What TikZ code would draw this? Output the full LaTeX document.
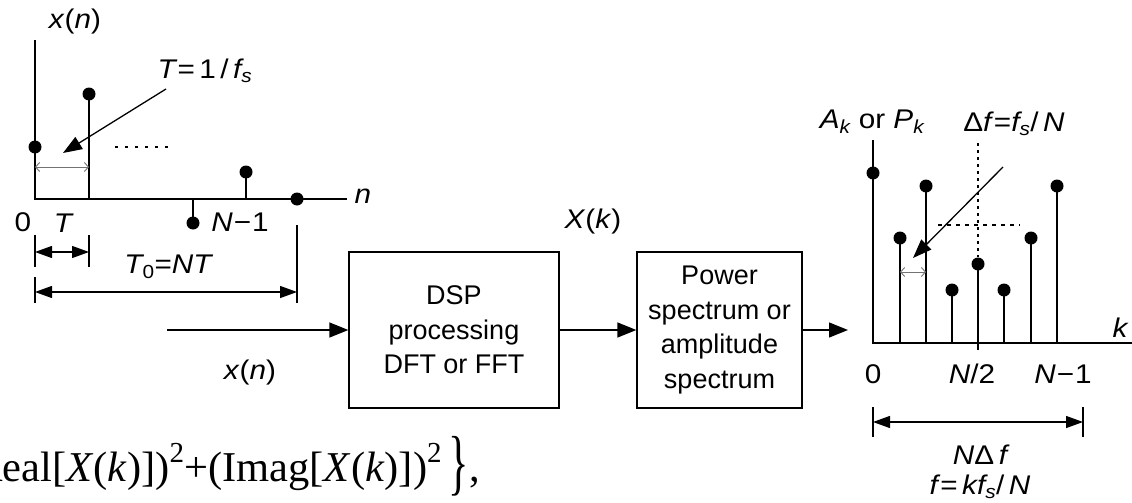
\documentclass[tikz,border=0pt]{standalone}
\usepackage{fontspec}
\setmainfont{Liberation Sans}
\newfontfamily\serifam{Liberation Serif}
\newfontfamily\lblfont[FakeStretch=1.1]{Liberation Sans}
\usetikzlibrary{arrows.meta}
\newcommand\supr[1]{\raisebox{0.45em}{\fontsize{29}{29}\selectfont #1}}
\begin{document}
\begin{tikzpicture}[x=1pt,y=-1pt,
  ln/.style={line width=1.3pt},
  dotn/.style={circle,fill=black,inner sep=0pt,minimum size=13pt},
  box/.style={draw,line width=1.3pt,minimum height=156pt,align=center,
    font=\fontsize{27}{34.5}\selectfont,inner sep=0pt},
  flow/.style={line width=1.3pt,-{Triangle[length=19pt,width=15pt]}},
  dimarr/.style={line width=1.3pt,{Triangle[length=17pt,width=12pt]}-{Triangle[length=17pt,width=12pt]}},
  thinarr/.style={line width=0.9pt,black!55,{Straight Barb[length=4pt,width=9pt]}-{Straight Barb[length=4pt,width=9pt]}},
  lbl/.style={font=\lblfont\fontsize{27}{30}\selectfont\itshape,inner sep=0pt},
  dotted line/.style={line width=1.3pt,dash pattern=on 3pt off 7pt},
]
\useasboundingbox (0,0) rectangle (1132,503);
\clip (0,0) rectangle (1132,503);

% ---------- left time plot ----------
\coordinate (o1) at (35,199);
\coordinate (ytop1) at (35,40);
\coordinate (xend1) at (347,199);
\draw[ln] (ytop1) -- (o1) -- (xend1);
\node[dotn] (s0) at (35,147) {};
\coordinate (b1) at (89,199);
\node[dotn] (s1) at (89,94) {};
\draw[ln] (b1) -- (s1.center);
\coordinate (b2) at (193,199);
\node[dotn] (s2) at (193,223) {};
\draw[ln] (b2) -- (s2.center);
\coordinate (b3) at (246,199);
\node[dotn] (s3) at (246,172) {};
\draw[ln] (b3) -- (s3.center);
\node[dotn] (s4) at (297,199) {};
\coordinate (dl1) at (115,147);
\coordinate (dl2) at (168,147);
\draw[dotted line] (dl1) -- (dl2);
\coordinate (ta1) at (35,167);
\coordinate (ta2) at (89,167);
\draw[thinarr] (ta1) -- (ta2);

\node[lbl] (xn) at (75,22) {x\textup{(}n\textup{)}};
\node[lbl] (Tfs) at (205,71) {T\textup{=}\,\textup{1}\,\textup{/}\,f\textsubscript{s}};
\coordinate (tfsfrom) at (166,89);
\coordinate (tfsto) at (63,153);
\draw[ln,-{Triangle[length=19pt,width=14pt]}] (tfsfrom) -- (tfsto);
\node[lbl] (n) at (363,196) {n};
\node[lbl] (zero1) at (23,222) {\textup{0}};
\node[lbl] (Tl) at (63,223) {T};
\node[lbl] (Nm1a) at (240,222) {N\kern1pt\textup{−}\kern1pt\textup{1}};

% dimension T
\coordinate (k1a) at (35,235); \coordinate (k1b) at (35,267);
\coordinate (k2a) at (89,235); \coordinate (k2b) at (89,267);
\draw[ln] (k1a) -- (k1b); \draw[ln] (k2a) -- (k2b);
\coordinate (d1a) at (35,252); \coordinate (d1b) at (89,252);
\draw[dimarr] (d1a) -- (d1b);
% dimension T0
\node[lbl] (T0) at (168,267) {T\textsubscript{\textup{0}}\textup{=}NT};
\coordinate (k3a) at (35,277); \coordinate (k3b) at (35,303);
\coordinate (k4a) at (297,225); \coordinate (k4b) at (297,303);
\draw[ln] (k3a) -- (k3b); \draw[ln] (k4a) -- (k4b);
\coordinate (d2a) at (35,292); \coordinate (d2b) at (297,292);
\draw[dimarr] (d2a) -- (d2b);

% ---------- blocks ----------
\node[box,minimum width=210pt] (dsp) at (454,330) {DSP\\processing\\DFT or FFT};
\node[box,minimum width=165pt] (pow) at (719.5,330) {Power\\spectrum or\\amplitude\\spectrum};
\coordinate (in) at (167,330);
\coordinate (out) at (848,330);
\draw[flow] (in) -- (dsp.west);
\draw[flow] (dsp.east) -- (pow.west);
\draw[flow] (pow.east) -- (out);
\node[lbl] (xnin) at (250,373) {x\textup{(}n\textup{)}};
\node[lbl] (Xk) at (593,222) {X\textup{(}k\textup{)}};

% ---------- right spectrum plot ----------
\coordinate (o2) at (873,343);
\coordinate (ytop2) at (873,140);
\coordinate (xend2) at (1132,343);
\draw[ln] (ytop2) -- (o2) -- (xend2);
\foreach \i/\x/\y in {0/873/173,1/900/238,2/926/186,3/952/290,4/978/264,5/1004/290,6/1031/238,7/1057/186}{
  \coordinate (r\i) at (\x,343);
  \node[dotn] (p\i) at (\x,\y) {};
  \draw[ln] (r\i) -- (p\i.center);
}
\coordinate (tk) at (978,350);
\draw[ln] (r4) -- (tk);
\coordinate (dv1) at (978,143);
\coordinate (dv2) at (978,257);
\draw[line width=1.3pt,dash pattern=on 3pt off 4pt] (dv1) -- (dv2);
\coordinate (dh1) at (938,225);
\coordinate (dh2) at (1020,225);
\draw[line width=1.1pt,dash pattern=on 4pt off 5pt] (dh1) -- (dh2);
\coordinate (dffrom) at (1003,167);
\coordinate (dfto) at (913,258);
\draw[ln,-{Triangle[length=19pt,width=14pt]}] (dffrom) -- (dfto);
\coordinate (sa1) at (900,272);
\coordinate (sa2) at (926,272);
\draw[thinarr] (sa1) -- (sa2);

\node[lbl] (AP) at (872,122) {A\textsubscript{k} \textup{or} P\textsubscript{k}};
\node[lbl] (df) at (1014,124) {\textup{Δ}f\textup{=}f\textsubscript{s}\textup{/}\,N};
\node[lbl] (kl) at (1120,328) {k};
\node[lbl] (zero2) at (873,374) {\textup{0}};
\node[lbl] (N2) at (972,374) {N\textup{/}\textup{2}};
\node[lbl] (Nm1b) at (1063,374) {N\kern1pt\textup{−}\kern1pt\textup{1}};

\coordinate (k5a) at (873,407); \coordinate (k5b) at (873,437);
\coordinate (k6a) at (1083,407); \coordinate (k6b) at (1083,437);
\draw[ln] (k5a) -- (k5b); \draw[ln] (k6a) -- (k6b);
\coordinate (d3a) at (873,422); \coordinate (d3b) at (1083,422);
\draw[dimarr] (d3a) -- (d3b);
\node[lbl] (NDf) at (980,455) {N\textup{Δ}\,f};
\node[lbl] (fk) at (980,487) {f\textup{=}\,kf\textsubscript{s}\textup{/}\,N};

% ---------- formula ----------
\node[anchor=west,inner sep=0pt,font=\serifam\fontsize{42.5}{44}\selectfont] (formula) at (-26,466)
 {Real[\textit{X}(\textit{k})])\supr{2}+(Imag[\textit{X}(\textit{k})])\supr{2}\,\raisebox{-0.12em}{\scalebox{1}[1.7]{\}}},};
\end{tikzpicture}
\end{document}
